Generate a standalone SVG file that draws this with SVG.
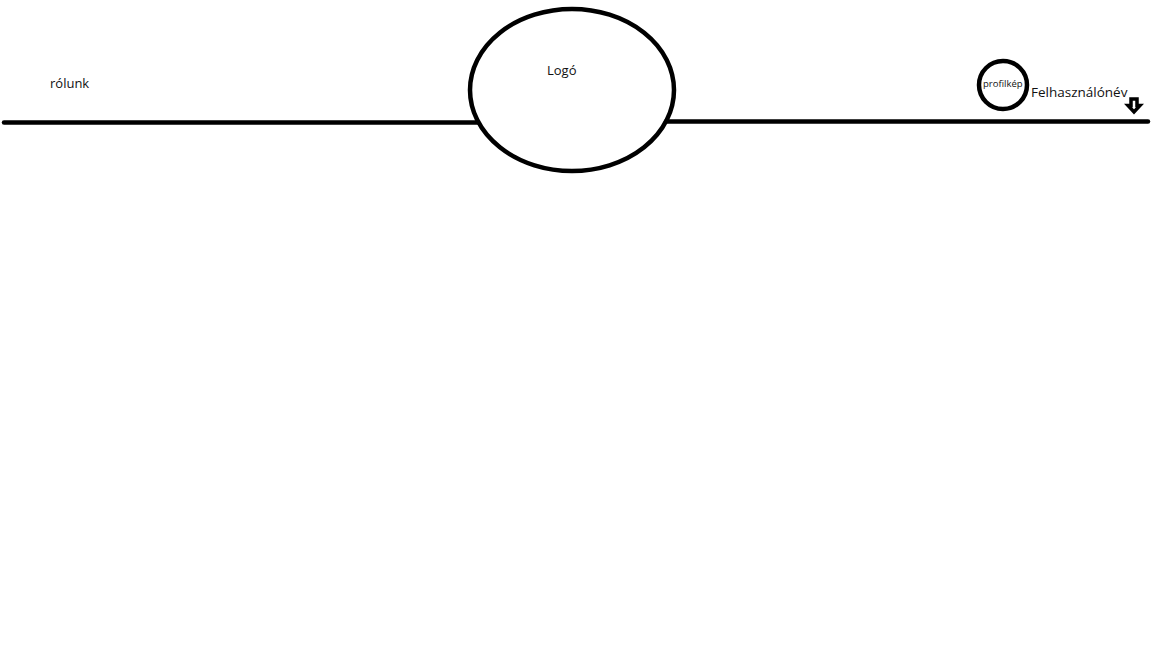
<svg xmlns="http://www.w3.org/2000/svg" width="1152" height="648" viewBox="0 0 1152 648">
<style>
.ln{stroke:#000;stroke-width:4.5;stroke-linecap:round;fill:none}
.sh{stroke:#000;stroke-width:4.5;fill:none}
.t{font-family:"Open Sans","Noto Sans",sans-serif;fill:#111}
</style>
<rect width="1152" height="648" fill="#fff"/>
<g id="connectors">
<line class="ln" x1="4" y1="122.5" x2="478" y2="122.5"/>
<line class="ln" x1="666" y1="121.5" x2="1148" y2="121.5"/>
</g>
<g id="logo">
<ellipse class="sh" cx="572" cy="90" rx="102" ry="81"/>
<text class="t" x="547" y="75" font-size="13">Logó</text>
</g>
<g id="rolunk">
<text class="t" x="50" y="88" font-size="13">rólunk</text>
</g>
<g id="profilkep">
<circle class="sh" cx="1003" cy="85" r="24"/>
<text class="t" x="983" y="87" font-size="9.5">profilkép</text>
</g>
<g id="felhasznalonev">
<text class="t" x="1031" y="97" font-size="13.5">Felhasználónév</text>
</g>
<g id="arrow">
<path d="M1131 99 H1137 V105.5 H1140 L1134 112 L1128 105.5 H1131 Z" stroke="#000" stroke-width="3.5" fill="#fff" stroke-linejoin="miter"/>
</g>
</svg>
